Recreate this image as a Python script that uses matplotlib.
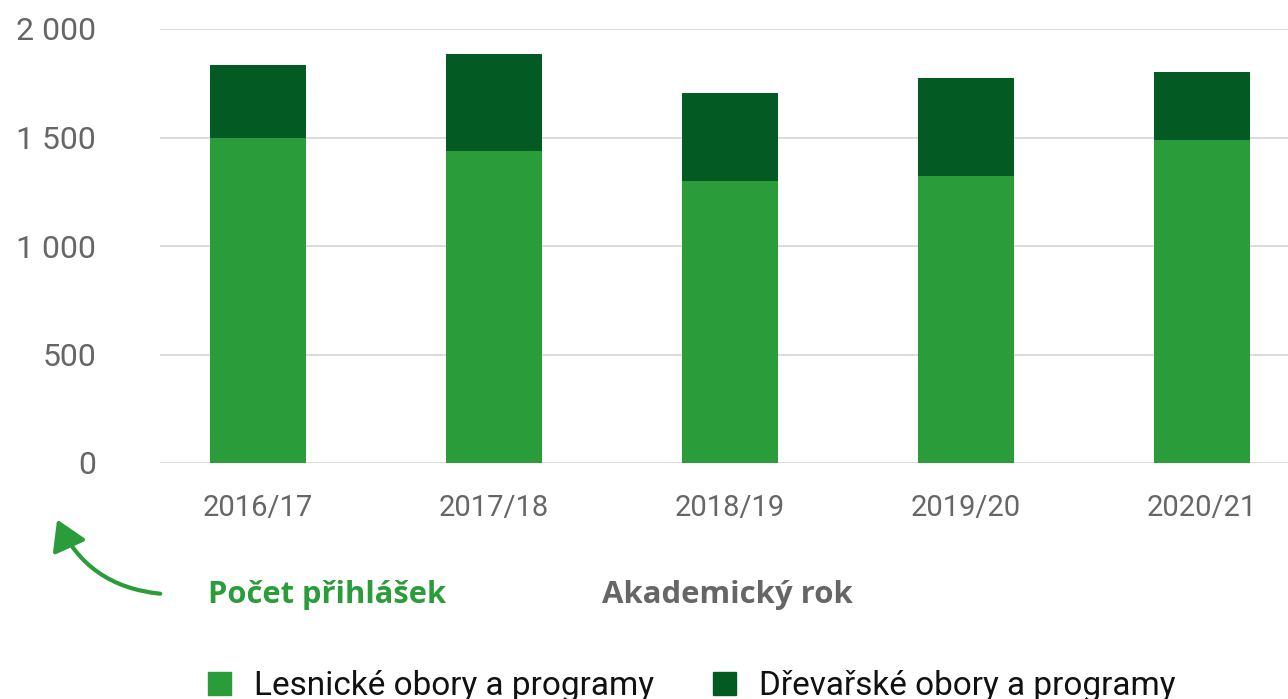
import matplotlib
matplotlib.use("Agg")
import matplotlib.pyplot as plt
from matplotlib.patches import FancyArrowPatch, Rectangle
from matplotlib.ticker import FuncFormatter

years = ["2016/17", "2017/18", "2018/19", "2019/20", "2020/21"]
lesnicke = [1500, 1438, 1300, 1323, 1490]
drevarske = [334, 447, 405, 451, 312]
series_names = ["Lesnické obory a programy", "Dřevařské obory a programy"]
y_ticks = [0, 500, 1000, 1500, 2000]

c_light = "#2b9c3a"
c_dark = "#035a23"
c_text = "#666666"

plt.rcParams['font.family'] = ['Roboto', 'DejaVu Sans']

fig = plt.figure(figsize=(12.88, 6.99), dpi=100)
ax = fig.add_axes([160/1288, 1-463/699, 1-160/1288, (463-29)/699])

x = list(range(len(years)))
ax.bar(x, lesnicke, width=0.41, color=c_light, zorder=3)
ax.bar(x, drevarske, bottom=lesnicke, width=0.41, color=c_dark, zorder=3)

ax.set_xlim(-0.415, 4.364)
ax.set_ylim(0, 2000)
ax.set_yticks(y_ticks)
ax.yaxis.set_major_formatter(FuncFormatter(lambda v, p: f"{int(v):,}".replace(",", " ")))
ax.set_xticks(x)
ax.set_xticklabels(years)
ax.grid(axis='y', color='#d9d9d9', linewidth=1.3, zorder=0)
ax.set_axisbelow(True)
for s in ax.spines.values():
    s.set_visible(False)
ax.tick_params(axis='y', length=0, pad=46, labelsize=23, labelcolor=c_text)
ax.tick_params(axis='x', length=0, pad=22, labelsize=21, labelcolor=c_text)

fig.text(208/1288, 1-603/699, "Počet přihlášek", color=c_light, fontsize=22.2,
         fontweight='bold', ha='left', va='baseline', family=['Open Sans', 'DejaVu Sans'])
fig.text(602/1288, 1-603/699, "Akademický rok", color=c_text, fontsize=22.4,
         fontweight='bold', ha='left', va='baseline', family=['Open Sans', 'DejaVu Sans'])

arrow = FancyArrowPatch((163/1288, 1-594/699), (56/1288, 1-517/699),
                        transform=fig.transFigure, connectionstyle="arc3,rad=-0.3",
                        arrowstyle="-|>,head_length=9,head_width=5.5", color=c_light,
                        linewidth=3, mutation_scale=2)
fig.patches.append(arrow)

# legend
for i, (name, col) in enumerate(zip(series_names, [c_light, c_dark])):
    x0 = [208, 713][i]
    fig.patches.append(Rectangle((x0/1288, 1-695/699), 23/1288, 23/699,
                                 transform=fig.transFigure, color=col))
    fig.text((x0+46)/1288, 1-695/699, name, color='#111111', fontsize=24,
             ha='left', va='baseline')

fig.savefig("out.png", dpi=100)
